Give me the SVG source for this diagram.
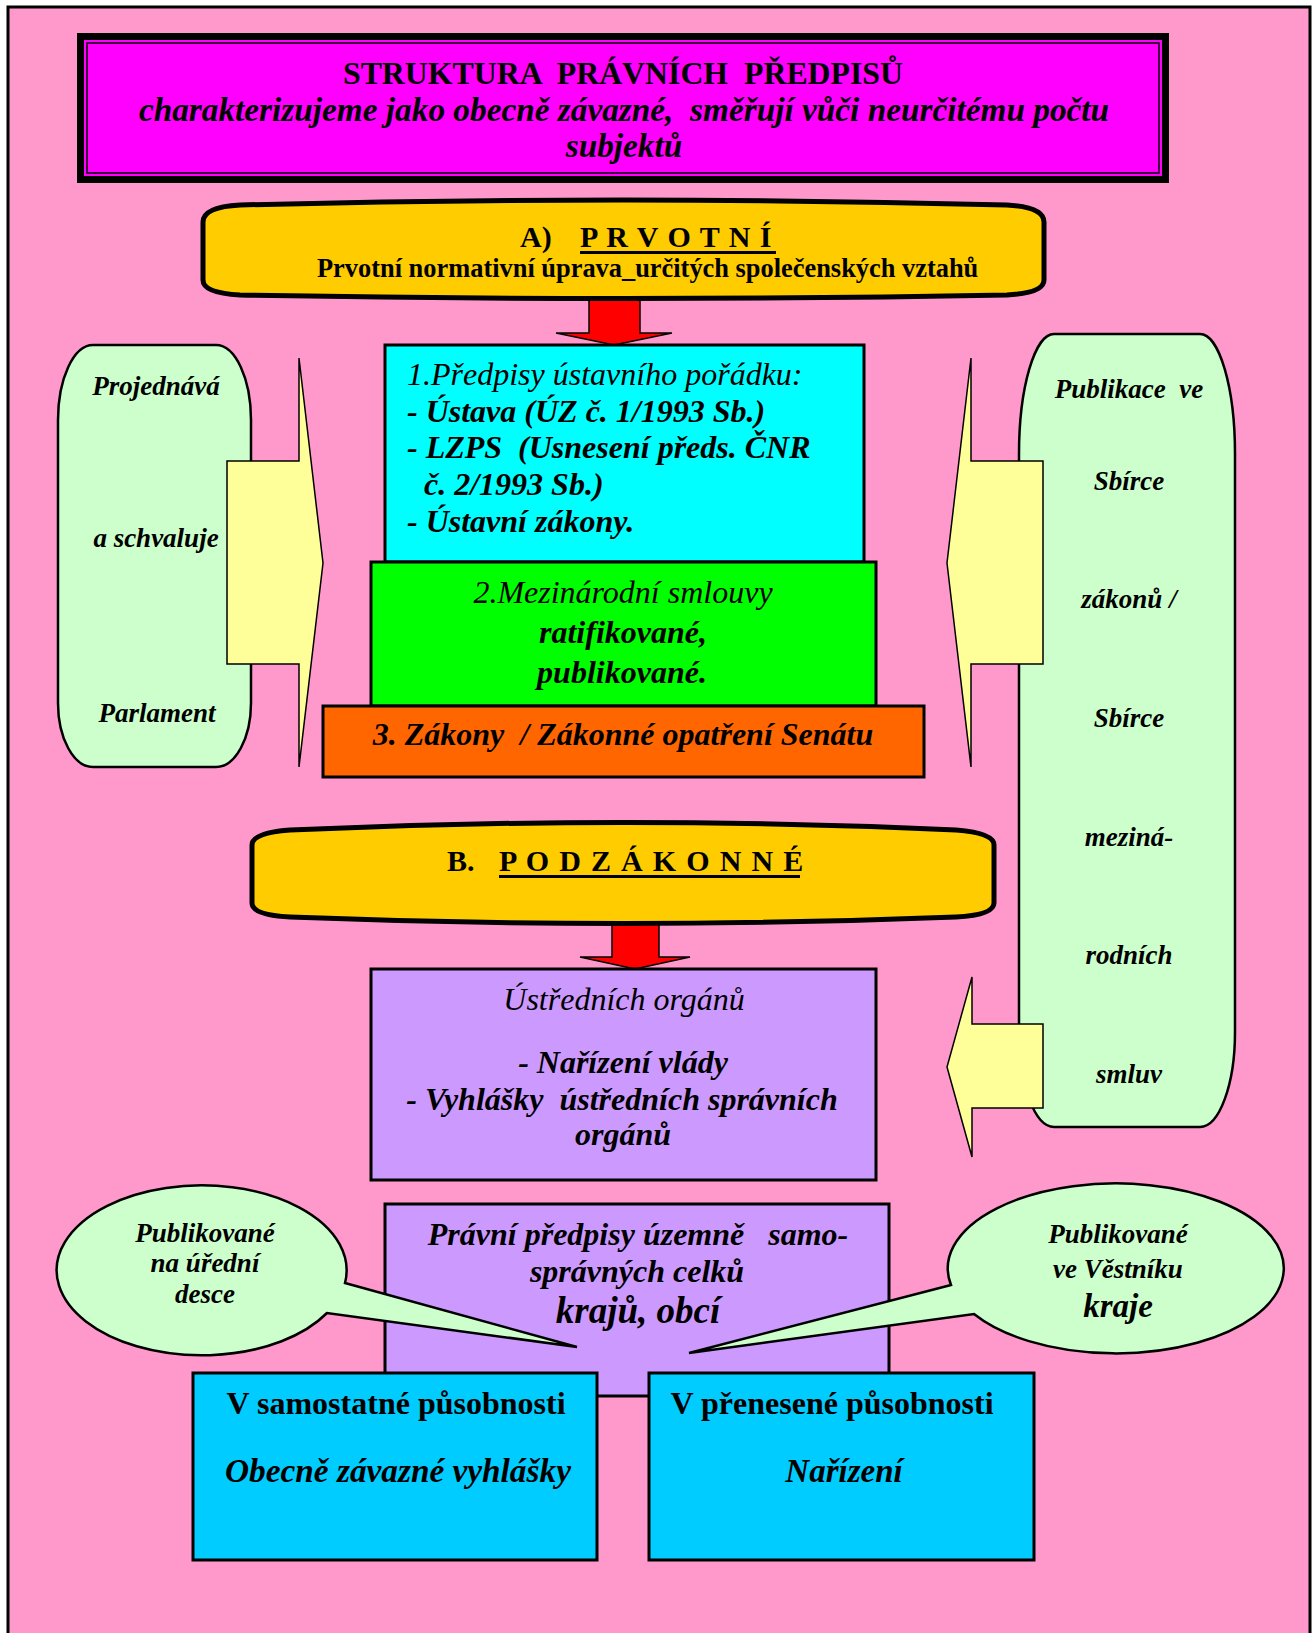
<svg xmlns="http://www.w3.org/2000/svg" width="1314" height="1633" viewBox="0 0 1314 1633">
<style>
.t{font-family:"Liberation Serif","Times New Roman",serif;fill:#000;white-space:pre}
.b{font-weight:bold}
.i{font-style:italic}
.m{text-anchor:middle}
.s{stroke:#000;stroke-width:3}
.thin{stroke:#000;stroke-width:1.5}
</style>
<rect x="0" y="0" width="1314" height="1633" fill="#fff"/>
<rect id="page" x="8" y="7" width="1302" height="1640" fill="#FF99CC" stroke="#000" stroke-width="3"/>

<g id="title">
<rect x="77" y="33" width="1092" height="150" fill="#000"/>
<rect x="84" y="40" width="1078" height="136" fill="#FF00FF"/>
<rect x="87" y="43" width="1072" height="130" fill="none" stroke="#000" stroke-width="1.5"/>
<text class="t b m" x="623" y="84" font-size="31.8" xml:space="preserve">STRUKTURA  PRÁVNÍCH  PŘEDPISŮ</text>
<text class="t b i m" x="624" y="121" font-size="33.3" xml:space="preserve">charakterizujeme jako obecně závazné,  směřují vůči neurčitému počtu</text>
<text class="t b i m" x="624" y="157" font-size="33.3">subjektů</text>
</g>

<g id="connectors">
<polygon points="589,296 640,296 640,333 672,333 614,345 556,333 589,333" fill="#FF0000" class="thin"/>
<polygon points="612,921 659,921 659,957 690,957 635,969 580,957 612,957" fill="#FF0000" class="thin"/>
</g>

<g id="prvotni">
<path d="M203,222 Q203,207 240,205 Q623,195 1007,205 Q1044,207 1044,222 L1044,280 Q1044,293 1007,295 Q623,302 240,295 Q203,293 203,280 Z" fill="#FFCC00" stroke="#000" stroke-width="5"/>
<text class="t b" y="247" font-size="30"><tspan x="520">A)</tspan><tspan x="580" letter-spacing="1">P R V O T N Í</tspan></text>
<rect x="580" y="251" width="196" height="3" fill="#000"/>
<text class="t b" x="317" y="277" font-size="26.4">Prvotní normativní úprava_určitých společenských vztahů</text>
</g>

<g id="parlament">
<path d="M93,345 H216 A35,75 0 0 1 251,420 V703 A35,64 0 0 1 216,767 H93 A35,64 0 0 1 58,703 V420 A35,75 0 0 1 93,345 Z" fill="#CCFFCC" stroke="#000" stroke-width="2.5"/>
<text class="t b i m" x="156" y="395" font-size="27">Projednává</text>
<text class="t b i m" x="156" y="547" font-size="27">a schvaluje</text>
<text class="t b i m" x="157" y="722" font-size="27">Parlament</text>
</g>
<g id="arrow-left">
<polygon points="227,461 299,461 299,358 323,563 299,767 299,664 227,664" fill="#FFFF99" class="thin"/>
</g>

<g id="sbirka">
<path d="M1054,334 H1200 A35,120 0 0 1 1235,454 V1032 A35,95 0 0 1 1200,1127 H1054 A35,95 0 0 1 1019,1032 V454 A35,120 0 0 1 1054,334 Z" fill="#CCFFCC" stroke="#000" stroke-width="2.5"/>
<text class="t b i m" x="1129" y="398" font-size="27" xml:space="preserve">Publikace  ve</text>
<text class="t b i m" x="1129" y="490" font-size="27">Sbírce</text>
<text class="t b i m" x="1129" y="608" font-size="27">zákonů /</text>
<text class="t b i m" x="1129" y="727" font-size="27">Sbírce</text>
<text class="t b i m" x="1129" y="846" font-size="27">meziná-</text>
<text class="t b i m" x="1129" y="964" font-size="27">rodních</text>
<text class="t b i m" x="1129" y="1083" font-size="27">smluv</text>
</g>
<g id="arrow-right-1">
<polygon points="1043,461 971,461 971,358 947,563 971,767 971,664 1043,664" fill="#FFFF99" class="thin"/>
</g>
<g id="arrow-right-2">
<polygon points="1043,1024 972,1024 972,977 947,1067 972,1157 972,1108 1043,1108" fill="#FFFF99" class="thin"/>
</g>

<g id="ustavni">
<rect x="385" y="345" width="479" height="217" fill="#00FFFF" class="s"/>
<text class="t i" x="407" y="385" font-size="32">1.Předpisy ústavního pořádku:</text>
<text class="t b i" x="407" y="422" font-size="32">- Ústava (ÚZ č. 1/1993 Sb.)</text>
<text class="t b i" x="407" y="458" font-size="32" xml:space="preserve">- LZPS  (Usnesení předs. ČNR</text>
<text class="t b i" x="424" y="495" font-size="32">č. 2/1993 Sb.)</text>
<text class="t b i" x="407" y="532" font-size="32">- Ústavní zákony.</text>
</g>
<g id="smlouvy">
<rect x="371" y="562" width="505" height="144" fill="#00FF00" class="s"/>
<text class="t i m" x="623" y="603" font-size="32">2.Mezinárodní smlouvy</text>
<text class="t b i m" x="623" y="643" font-size="32">ratifikované,</text>
<text class="t b i m" x="622" y="683" font-size="32">publikované.</text>
</g>
<g id="zakony">
<rect x="323" y="706" width="601" height="71" fill="#FF6600" class="s" stroke-width="2"/>
<text class="t b i m" x="623" y="745" font-size="32" xml:space="preserve">3. Zákony  / Zákonné opatření Senátu</text>
</g>

<g id="podzakonne">
<path d="M252,845 Q252,833 290,830 Q623,815 956,830 Q994,833 994,845 L994,903 Q994,915 956,917 Q623,930 290,917 Q252,915 252,903 Z" fill="#FFCC00" stroke="#000" stroke-width="5"/>
<text class="t b" y="871" font-size="30"><tspan x="447">B.</tspan><tspan x="499" letter-spacing="1.3">P O D Z Á K O N N É</tspan></text>
<rect x="499" y="875" width="301" height="3" fill="#000"/>
</g>

<g id="ustredni">
<rect x="371" y="969" width="505" height="211" fill="#CC99FF" class="s"/>
<text class="t i m" x="624" y="1010" font-size="32">Ústředních orgánů</text>
<text class="t b i m" x="623" y="1073" font-size="32">- Nařízení vlády</text>
<text class="t b i m" x="622" y="1110" font-size="32" xml:space="preserve">- Vyhlášky  ústředních správních</text>
<text class="t b i m" x="623" y="1145" font-size="32">orgánů</text>
</g>

<g id="samosprava">
<rect x="385" y="1204" width="504" height="192" fill="#CC99FF" class="s" stroke-width="3.5"/>
<text class="t b i m" x="638" y="1245" font-size="32" xml:space="preserve">Právní předpisy územně   samo-</text>
<text class="t b i m" x="637" y="1282" font-size="32">správných celků</text>
<text class="t b i m" x="638" y="1323" font-size="37">krajů, obcí</text>
</g>

<g id="callout-left">
<path d="M345,1283 L577,1347 L327,1313 A145,85 0 1 1 345,1283 Z" fill="#CCFFCC" stroke="#000" stroke-width="2.5"/>
<text class="t b i m" x="205" y="1242" font-size="27">Publikované</text>
<text class="t b i m" x="205" y="1272" font-size="27">na úřední</text>
<text class="t b i m" x="205" y="1303" font-size="27">desce</text>
</g>
<g id="callout-right">
<path d="M951,1285 L689,1353 L974,1314 A168,85 0 1 0 951,1285 Z" fill="#CCFFCC" stroke="#000" stroke-width="2.5"/>
<text class="t b i m" x="1118" y="1243" font-size="27">Publikované</text>
<text class="t b i m" x="1118" y="1278" font-size="27">ve Věstníku</text>
<text class="t b i m" x="1118" y="1317" font-size="33">kraje</text>
</g>

<g id="samostatna">
<rect x="193" y="1373" width="404" height="187" fill="#00CCFF" class="s" stroke-width="2.5"/>
<text class="t b m" x="396" y="1414" font-size="32">V samostatné působnosti</text>
<text class="t b i m" x="398" y="1482" font-size="33.3">Obecně závazné vyhlášky</text>
</g>
<g id="prenesena">
<rect x="649" y="1373" width="385" height="187" fill="#00CCFF" class="s" stroke-width="2.5"/>
<text class="t b m" x="832" y="1414" font-size="32">V přenesené působnosti</text>
<text class="t b i m" x="844" y="1482" font-size="33">Nařízení</text>
</g>
</svg>
